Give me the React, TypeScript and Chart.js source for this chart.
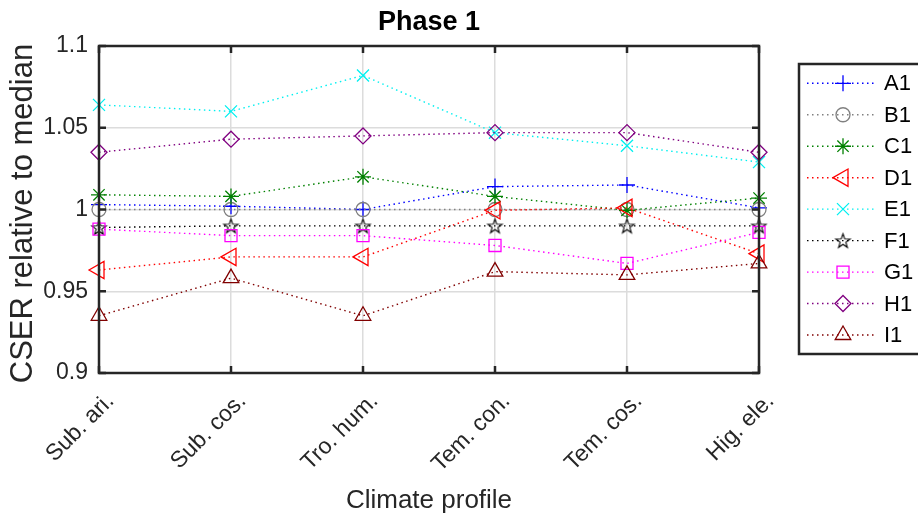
import React, { useEffect, useRef } from 'react';
import { Chart, registerables } from 'chart.js';
import { drawPoint } from 'chart.js/helpers';

Chart.register(...registerables);

const categories = ['Sub. ari.', 'Sub. cos.', 'Tro. hum.', 'Tem. con.', 'Tem. cos.', 'Hig. ele.'];
const yTickLabels = ['0.9', '0.95', '1', '1.05', '1.1'];
const seriesNames = ['A1', 'B1', 'C1', 'D1', 'E1', 'F1', 'G1', 'H1', 'I1'];

const A1 = [1.003, 1.002, 1.0, 1.014, 1.015, 1.001];
const B1 = [1.0, 1.0, 1.0, 1.0, 1.0, 1.0];
const C1 = [1.009, 1.008, 1.02, 1.008, 0.9995, 1.007];
const D1 = [0.963, 0.971, 0.971, 0.9995, 1.001, 0.973];
const E1 = [1.064, 1.06, 1.082, 1.047, 1.039, 1.029];
const F1 = [0.989, 0.99, 0.99, 0.99, 0.99, 0.99];
const G1 = [0.988, 0.984, 0.984, 0.978, 0.967, 0.986];
const H1 = [1.035, 1.043, 1.045, 1.047, 1.047, 1.035];
const I1 = [0.935, 0.958, 0.935, 0.962, 0.96, 0.967];

const seriesValues = [A1, B1, C1, D1, E1, F1, G1, H1, I1];
const seriesColors = ['#0000ff', '#808080', '#008000', '#ff0000', '#00f0f0', '#000000', '#ff00ff', '#800080', '#800000'];

const FONT = '"Liberation Sans", Arial, Helvetica, sans-serif';
const TEXT = '#262626';

function makePentagram(color: string, outer: number, lw: number) {
  const size = Math.ceil(outer * 2 + lw * 2 + 3);
  const c = document.createElement('canvas');
  c.width = size;
  c.height = size;
  const ctx = c.getContext('2d')!;
  const cx = size / 2;
  const cy = size / 2 + outer * 0.1;
  const inner = outer * 0.4;
  ctx.beginPath();
  for (let i = 0; i < 10; i++) {
    const r = i % 2 === 0 ? outer : inner;
    const a = -Math.PI / 2 + (i * Math.PI) / 5;
    const px = cx + r * Math.cos(a);
    const py = cy + r * Math.sin(a);
    if (i === 0) ctx.moveTo(px, py);
    else ctx.lineTo(px, py);
  }
  ctx.closePath();
  ctx.strokeStyle = color;
  ctx.lineWidth = lw;
  ctx.stroke();
  return c;
}

export default function App() {
  const ref = useRef<HTMLCanvasElement | null>(null);

  useEffect(() => {
    const canvas = ref.current;
    if (!canvas) return;
    const pentagram = makePentagram('#000000', 7.5, 1.1);

    const markers: any[] = [
      { pointStyle: 'cross', radius: 8, rotation: 0 },
      { pointStyle: 'circle', radius: 7, rotation: 0 },
      { pointStyle: 'star', radius: 8, rotation: 0 },
      { pointStyle: 'triangle', radius: 10, rotation: -90 },
      { pointStyle: 'crossRot', radius: 8.5, rotation: 0 },
      { pointStyle: pentagram, radius: 7.5, rotation: 0 },
      { pointStyle: 'rect', radius: 8.5, rotation: 0 },
      { pointStyle: 'rectRot', radius: 8, rotation: 0 },
      { pointStyle: 'triangle', radius: 9, rotation: 0 },
    ];

    const datasets = seriesNames.map((name, i) => ({
      label: name,
      data: seriesValues[i],
      borderColor: seriesColors[i],
      backgroundColor: 'rgba(0,0,0,0)',
      borderWidth: 1.4,
      borderDash: [1.5, 3.5],
      tension: 0,
      fill: false,
      pointStyle: markers[i].pointStyle,
      pointRadius: markers[i].radius,
      pointRotation: markers[i].rotation,
      pointBorderColor: seriesColors[i],
      pointBackgroundColor: 'rgba(0,0,0,0)',
      pointBorderWidth: 1.3,
      order: seriesNames.length - i,
    }));

    const decor = {
      id: 'decor',
      afterDatasetsDraw(chart: any) {
        const { ctx, chartArea } = chart;
        const { left, right, top, bottom } = chartArea;
        const xs = chart.scales.x;
        const ys = chart.scales.y;
        ctx.save();
        // box
        ctx.strokeStyle = TEXT;
        ctx.lineWidth = 2.5;
        ctx.setLineDash([]);
        ctx.strokeRect(left, top, right - left, bottom - top);
        // inner ticks
        const tl = 7;
        ctx.beginPath();
        for (let i = 0; i < categories.length; i++) {
          const x = xs.getPixelForTick(i);
          ctx.moveTo(x, bottom);
          ctx.lineTo(x, bottom - tl);
          ctx.moveTo(x, top);
          ctx.lineTo(x, top + tl);
        }
        ys.ticks.forEach((t: any) => {
          const y = ys.getPixelForValue(t.value);
          ctx.moveTo(left, y);
          ctx.lineTo(left + tl, y);
          ctx.moveTo(right, y);
          ctx.lineTo(right - tl, y);
        });
        ctx.stroke();

        // x tick labels (rotated 45)
        ctx.fillStyle = TEXT;
        ctx.font = `23px ${FONT}`;
        ctx.textAlign = 'right';
        ctx.textBaseline = 'alphabetic';
        for (let i = 0; i < categories.length; i++) {
          const x = xs.getPixelForTick(i);
          ctx.save();
          ctx.translate(x + 16, bottom + 29);
          ctx.rotate(-Math.PI / 4);
          ctx.fillText(categories[i], 0, 0);
          ctx.restore();
        }

        // title
        ctx.font = `bold 27px ${FONT}`;
        ctx.textAlign = 'center';
        ctx.textBaseline = 'middle';
        ctx.fillStyle = '#000000';
        ctx.fillText('Phase 1', (left + right) / 2, 23);

        // axis titles
        ctx.fillStyle = TEXT;
        ctx.font = `26px ${FONT}`;
        ctx.textBaseline = 'alphabetic';
        ctx.fillText('Climate profile', (left + right) / 2, 508);
        ctx.save();
        ctx.font = `31px ${FONT}`;
        ctx.translate(32, (top + bottom) / 2 + 4);
        ctx.rotate(-Math.PI / 2);
        ctx.fillText('CSER relative to median', 0, 0);
        ctx.restore();

        // legend
        const lx0 = 799;
        const ly0 = 64;
        const ly1 = 354;
        ctx.fillStyle = '#ffffff';
        ctx.fillRect(lx0, ly0, 925 - lx0, ly1 - ly0);
        ctx.strokeStyle = TEXT;
        ctx.lineWidth = 2.5;
        ctx.strokeRect(lx0, ly0, 925 - lx0, ly1 - ly0);
        const rowH = (335 - 83.3) / 8;
        seriesNames.forEach((name, i) => {
          const y = 83.3 + i * rowH;
          ctx.save();
          ctx.strokeStyle = seriesColors[i];
          ctx.lineWidth = 1.4;
          ctx.setLineDash([1.5, 3.5]);
          ctx.beginPath();
          ctx.moveTo(807, y);
          ctx.lineTo(874, y);
          ctx.stroke();
          ctx.setLineDash([]);
          ctx.strokeStyle = seriesColors[i];
          ctx.fillStyle = 'rgba(0,0,0,0)';
          ctx.lineWidth = 1.3;
          drawPoint(ctx, {
            pointStyle: markers[i].pointStyle,
            rotation: markers[i].rotation,
            radius: markers[i].radius,
            borderWidth: 1.3,
          } as any, 843, y);
          ctx.restore();
          ctx.fillStyle = '#000000';
          ctx.font = `22px ${FONT}`;
          ctx.textAlign = 'left';
          ctx.textBaseline = 'middle';
          ctx.fillText(name, 884, y + 1);
        });
        ctx.restore();
      },
    };

    const chart = new Chart(canvas, {
      type: 'line',
      data: { labels: categories, datasets: datasets as any },
      options: {
        responsive: false,
        animation: false,
        layout: { padding: { left: 0, right: 159, top: 46, bottom: 0 } },
        plugins: {
          legend: { display: false },
          title: { display: false },
          tooltip: { enabled: false },
        },
        scales: {
          x: {
            type: 'category',
            offset: false,
            grid: { color: '#dcdcdc', lineWidth: 1.5, drawTicks: false },
            border: { display: false },
            ticks: { display: false },
            afterFit(s: any) {
              s.height = 142;
            },
          },
          y: {
            min: 0.9,
            max: 1.1,
            grid: { color: '#dcdcdc', lineWidth: 1.5, drawTicks: false },
            border: { display: false },
            ticks: {
              stepSize: 0.05,
              padding: 11,
              color: TEXT,
              font: { family: FONT, size: 23 },
              callback: (v: any) => yTickLabels[Math.round((Number(v) - 0.9) / 0.05)] ?? '',
            },
            afterFit(s: any) {
              s.width = 99;
            },
          },
        },
      },
      plugins: [decor],
    });

    return () => chart.destroy();
  }, []);

  return (
    <div style={{ position: 'fixed', left: 0, top: 0, width: 918, height: 515, background: '#ffffff' }}>
      <canvas ref={ref} width={918} height={515} style={{ width: 918, height: 515, display: 'block' }} />
    </div>
  );
}
